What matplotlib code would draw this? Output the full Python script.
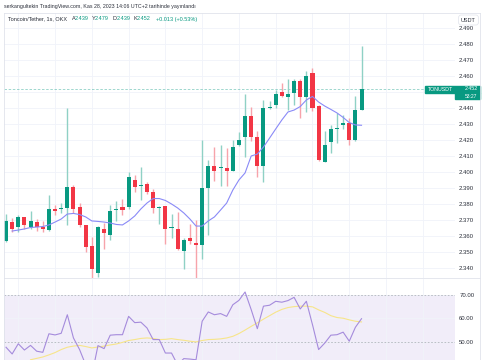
import numpy as np
import matplotlib
matplotlib.use('Agg')
import matplotlib.pyplot as plt
from matplotlib.patches import Rectangle
from matplotlib.lines import Line2D

plt.rcParams['font.family'] = ['Liberation Sans', 'DejaVu Sans']

# TONUSDT 1h candles (OKX)
opens = [2.3573, 2.3690, 2.3656, 2.3719, 2.3656, 2.3689, 2.3660, 2.3639, 2.3769, 2.3768,
         2.3777, 2.3910, 2.3781, 2.3669, 2.3539, 2.3369, 2.3648, 2.3610, 2.3765, 2.3781,
         2.3781, 2.3950, 2.3915, 2.3929, 2.3879, 2.3777, 2.3789, 2.3654, 2.3648, 2.3510,
         2.3589, 2.3556, 2.3548, 2.3900, 2.4039, 2.4029, 2.4029, 2.4010, 2.4171, 2.4223,
         2.4352, 2.4219, 2.4039, 2.4400, 2.4421, 2.4500, 2.4469, 2.4498, 2.4571, 2.4469,
         2.4621, 2.4415, 2.4067, 2.4189, 2.4269, 2.4294, 2.4311, 2.4200, 2.4389]
highs = [2.3739, 2.3716, 2.3731, 2.3723, 2.3756, 2.3710, 2.3694, 2.3860, 2.3794, 2.3810,
         2.4400, 2.3923, 2.3806, 2.3670, 2.3597, 2.3664, 2.3681, 2.3794, 2.3819, 2.3835,
         2.4000, 2.3981, 2.4031, 2.3940, 2.3894, 2.3789, 2.3790, 2.3738, 2.3750, 2.3591,
         2.3675, 2.3702, 2.4202, 2.4077, 2.4160, 2.4173, 2.4154, 2.4202, 2.4250, 2.4489,
         2.4410, 2.4260, 2.4452, 2.4448, 2.4514, 2.4560, 2.4583, 2.4581, 2.4581, 2.4633,
         2.4650, 2.4420, 2.4260, 2.4298, 2.4373, 2.4356, 2.4339, 2.4477, 2.4790]
lows = [2.3564, 2.3627, 2.3627, 2.3648, 2.3644, 2.3635, 2.3627, 2.3635, 2.3731, 2.3748,
        2.3669, 2.3748, 2.3656, 2.3500, 2.3338, 2.3344, 2.3519, 2.3577, 2.3698, 2.3731,
        2.3773, 2.3879, 2.3827, 2.3864, 2.3744, 2.3675, 2.3552, 2.3589, 2.3514, 2.3394,
        2.3552, 2.3338, 2.3460, 2.3610, 2.3947, 2.3914, 2.3914, 2.4010, 2.4166, 2.4097,
        2.4196, 2.3973, 2.3940, 2.4394, 2.4400, 2.4469, 2.4389, 2.4419, 2.4341, 2.4375,
        2.4383, 2.4073, 2.4064, 2.4119, 2.4181, 2.4269, 2.4171, 2.4196, 2.4389]
closes = [2.3698, 2.3648, 2.3719, 2.3669, 2.3698, 2.3660, 2.3648, 2.3769, 2.3760, 2.3772,
          2.3911, 2.3769, 2.3669, 2.3535, 2.3397, 2.3656, 2.3619, 2.3760, 2.3769, 2.3764,
          2.3969, 2.3908, 2.3921, 2.3879, 2.3779, 2.3781, 2.3648, 2.3658, 2.3519, 2.3577,
          2.3569, 2.3548, 2.3900, 2.4039, 2.4010, 2.4033, 2.4010, 2.4160, 2.4202, 2.4352,
          2.4223, 2.4039, 2.4400, 2.4410, 2.4489, 2.4479, 2.4490, 2.4571, 2.4469, 2.4602,
          2.4400, 2.4077, 2.4169, 2.4269, 2.4280, 2.4311, 2.4200, 2.4389, 2.4520]

# moving average on price (starts at candle 1)
ma_vals = [2.3633, 2.3639, 2.3646, 2.3655, 2.3658, 2.3661, 2.3671, 2.3689, 2.3708, 2.3739,
           2.3743, 2.3736, 2.3721, 2.3696, 2.3693, 2.3689, 2.3683, 2.3674, 2.3671, 2.3696,
           2.3727, 2.3771, 2.3808, 2.3836, 2.3836, 2.3824, 2.3802, 2.3777, 2.3746, 2.3708,
           2.3664, 2.3664, 2.3696, 2.3721, 2.3764, 2.3808, 2.3889, 2.3952, 2.3996, 2.4102,
           2.4114, 2.4158, 2.4214, 2.4271, 2.4327, 2.4377, 2.4389, 2.4411, 2.4452, 2.4474,
           2.4439, 2.4414, 2.4393, 2.4371, 2.4343, 2.4311, 2.4296, 2.4294]

rsi = [47.6, 44.7, 49.1, 46.4, 48.4, 45.9, 45.4, 53.4, 52.9, 53.6,
       61.6, 51.6, 46.6, 40.0, 35.5, 48.3, 47.0, 52.8, 53.0, 53.0,
       60.9, 58.2, 58.4, 55.9, 50.9, 50.9, 45.1, 45.1, 40.0, 42.7,
       42.5, 42.2, 58.8, 62.8, 61.6, 62.1, 60.9, 65.9, 67.8, 71.4,
       63.8, 55.6, 65.3, 65.7, 67.4, 67.0, 67.7, 69.1, 64.1, 67.4,
       57.3, 46.6, 49.4, 52.8, 53.0, 54.1, 50.2, 56.2, 59.9]
# RSI-based MA (starts at candle 4)
rsi_ma = [42.2, 42.8, 43.4, 44.3, 45.3, 46.6, 47.6, 48.1, 48.4, 47.9,
          47.3, 47.7, 48.1, 48.6, 49.0, 49.7, 50.5, 50.9, 51.4, 51.6,
          51.4, 50.9, 51.0, 51.3, 50.9, 50.6, 50.2, 49.9, 50.5, 50.9,
          51.0, 51.2, 51.6, 52.3, 53.5, 55.0, 56.6, 58.1, 59.7, 61.2,
          62.7, 63.9, 64.7, 65.1, 65.3, 65.3, 65.0, 63.7, 62.6, 61.2,
          60.4, 60.1, 59.4, 58.8, 58.5]

price_ticks = np.arange(2.34, 2.4905, 0.01)
rsi_ticks = [50, 60, 70]

UP, DOWN = '#089981', '#f23645'
UP_WICK, DOWN_WICK = '#8fd1c5', '#f7a3aa'
GRID = '#f0f3fa'
BORDER = '#e0e3eb'
TXT = '#2a2e39'

W, H = 485, 360
def fx(x):
    return x / W
def fy(y):
    return 1 - y / H

fig = plt.figure(figsize=(W / 100, H / 100), dpi=100)
ax = fig.add_axes([fx(4), fy(278.3), fx(451), fy(12.7) - fy(278.3)])
rax = fig.add_axes([fx(4), 0, fx(451), fy(279)])

n = len(closes)
idx = np.arange(n)
o = np.array(opens); c = np.array(closes)
h = np.array(highs); l = np.array(lows)
up = c >= o

ax.vlines(idx, l, h, colors=np.where(up, UP_WICK, DOWN_WICK), linewidth=1, zorder=2)
body = np.maximum(np.abs(c - o), 0.0006)
ax.bar(idx, body, bottom=np.minimum(o, c), width=0.66,
       color=np.where(up, UP, DOWN), linewidth=0, zorder=3)
ax.plot(idx[1:], ma_vals, color='#8a8af7', lw=0.8, zorder=4)
ax.axhline(closes[-1], xmax=(425 - 4) / 451, color=UP, lw=0.6, ls=(0, (3, 2)),
           alpha=0.45, zorder=1)

xlim = (-0.33, 73.25)
vgrid = np.arange(2, 72, 6)
for a in (ax, rax):
    a.set_xlim(*xlim)
    a.set_xticks(vgrid)
    a.tick_params(axis='x', length=0, labelbottom=False)
    a.yaxis.tick_right()
    a.tick_params(axis='y', length=0, labelsize=4.3, labelcolor=TXT, pad=3)
    a.grid(color=GRID, lw=0.6, zorder=0)
    a.set_axisbelow(True)
    for s in a.spines.values():
        s.set_visible(False)

ax.set_ylim(2.33375, 2.49975)
ax.set_yticks(price_ticks)
ax.set_yticklabels([f'{t:.3f}' for t in price_ticks])

rax.set_ylim(42.1, 77.0)
rax.axhspan(30, 70, color='#f1edf9', lw=0, zorder=0.5)
for lvl in (70, 50):
    rax.axhline(lvl, color='#b2b5be', lw=0.6, ls=(0, (2, 2)), zorder=1)
rax.plot(idx, rsi, color='#a58bdc', lw=0.8, zorder=3)
rax.plot(idx[4:], rsi_ma, color='#f7e58a', lw=0.8, zorder=2)
rax.set_yticks(rsi_ticks)
rax.set_yticklabels([f'{t:.2f}' for t in rsi_ticks])

# frame lines
for (x0, y0, x1, y1) in [(4, 12.7, 480, 12.7), (4, 278.3, 480, 278.3),
                         (4, 12.7, 4, 360), (480, 12.7, 480, 360)]:
    fig.add_artist(Line2D([fx(x0), fx(x1)], [fy(y0), fy(y1)], color=BORDER, lw=0.6))

# last price label
yt = ax.get_yaxis_transform()
x_lab = (425 - 4) / 451
ax.add_patch(Rectangle((x_lab, closes[-1] - 0.00225), 1.0554 - x_lab, 0.0045,
                       transform=yt, clip_on=False, color=UP, zorder=6))
ax.add_patch(Rectangle((1.0, closes[-1] - 0.00225 - 0.0042), 0.0554, 0.0042,
                       transform=yt, clip_on=False, color=UP, zorder=6))
ax.text(x_lab + 0.007, closes[-1], 'TONUSDT', transform=yt, color='white',
        fontsize=3.8, va='center', ha='left', zorder=7)
ax.text(1.05, closes[-1] + 0.0001, f'{closes[-1]:.3f}', transform=yt, color='white',
        fontsize=3.8, va='center', ha='right', zorder=7)
ax.text(1.05, closes[-1] - 0.0045, '53:27', transform=yt, color='white',
        fontsize=3.6, va='center', ha='right', zorder=7)

# header and legend
fig.text(fx(4), fy(6.5), 'serkangultekin TradingView.com, Kas 28, 2023 14:06 UTC+2 tarihinde yayınlandı',
         fontsize=3.8, color=TXT, va='center', ha='left')
fig.text(fx(8), fy(19), 'Toncoin/Tether, 1s, OKX', fontsize=4.0, color=TXT, va='center')
legend_parts = [(71.5, 'A', f'{opens[-1]:.3f}'), (91.5, 'Y', f'{highs[-1]:.3f}'),
                (113, 'D', f'{lows[-1]:.3f}'), (133.3, 'K', f'{closes[-1]:.3f}')]
for x, k, v in legend_parts:
    fig.text(fx(x), fy(19), k, fontsize=4.0, color=TXT, va='center')
    fig.text(fx(x + 3.6), fy(19), v, fontsize=4.0, color=UP, va='center')
o_r, c_r = round(opens[-1], 3), round(closes[-1], 3)
chg = c_r - o_r
fig.text(fx(156.5), fy(19), f'+{chg:.3f} (+{chg / o_r * 100:.2f}%)',
         fontsize=4.0, color=UP, va='center')
fig.text(fx(468.5), fy(20), 'USDT', fontsize=4.0, color=TXT, ha='center', va='center',
         bbox=dict(boxstyle='round,pad=0.45', fc='white', ec=BORDER, lw=0.5))

fig.savefig('out.png', dpi=100, facecolor='white')
